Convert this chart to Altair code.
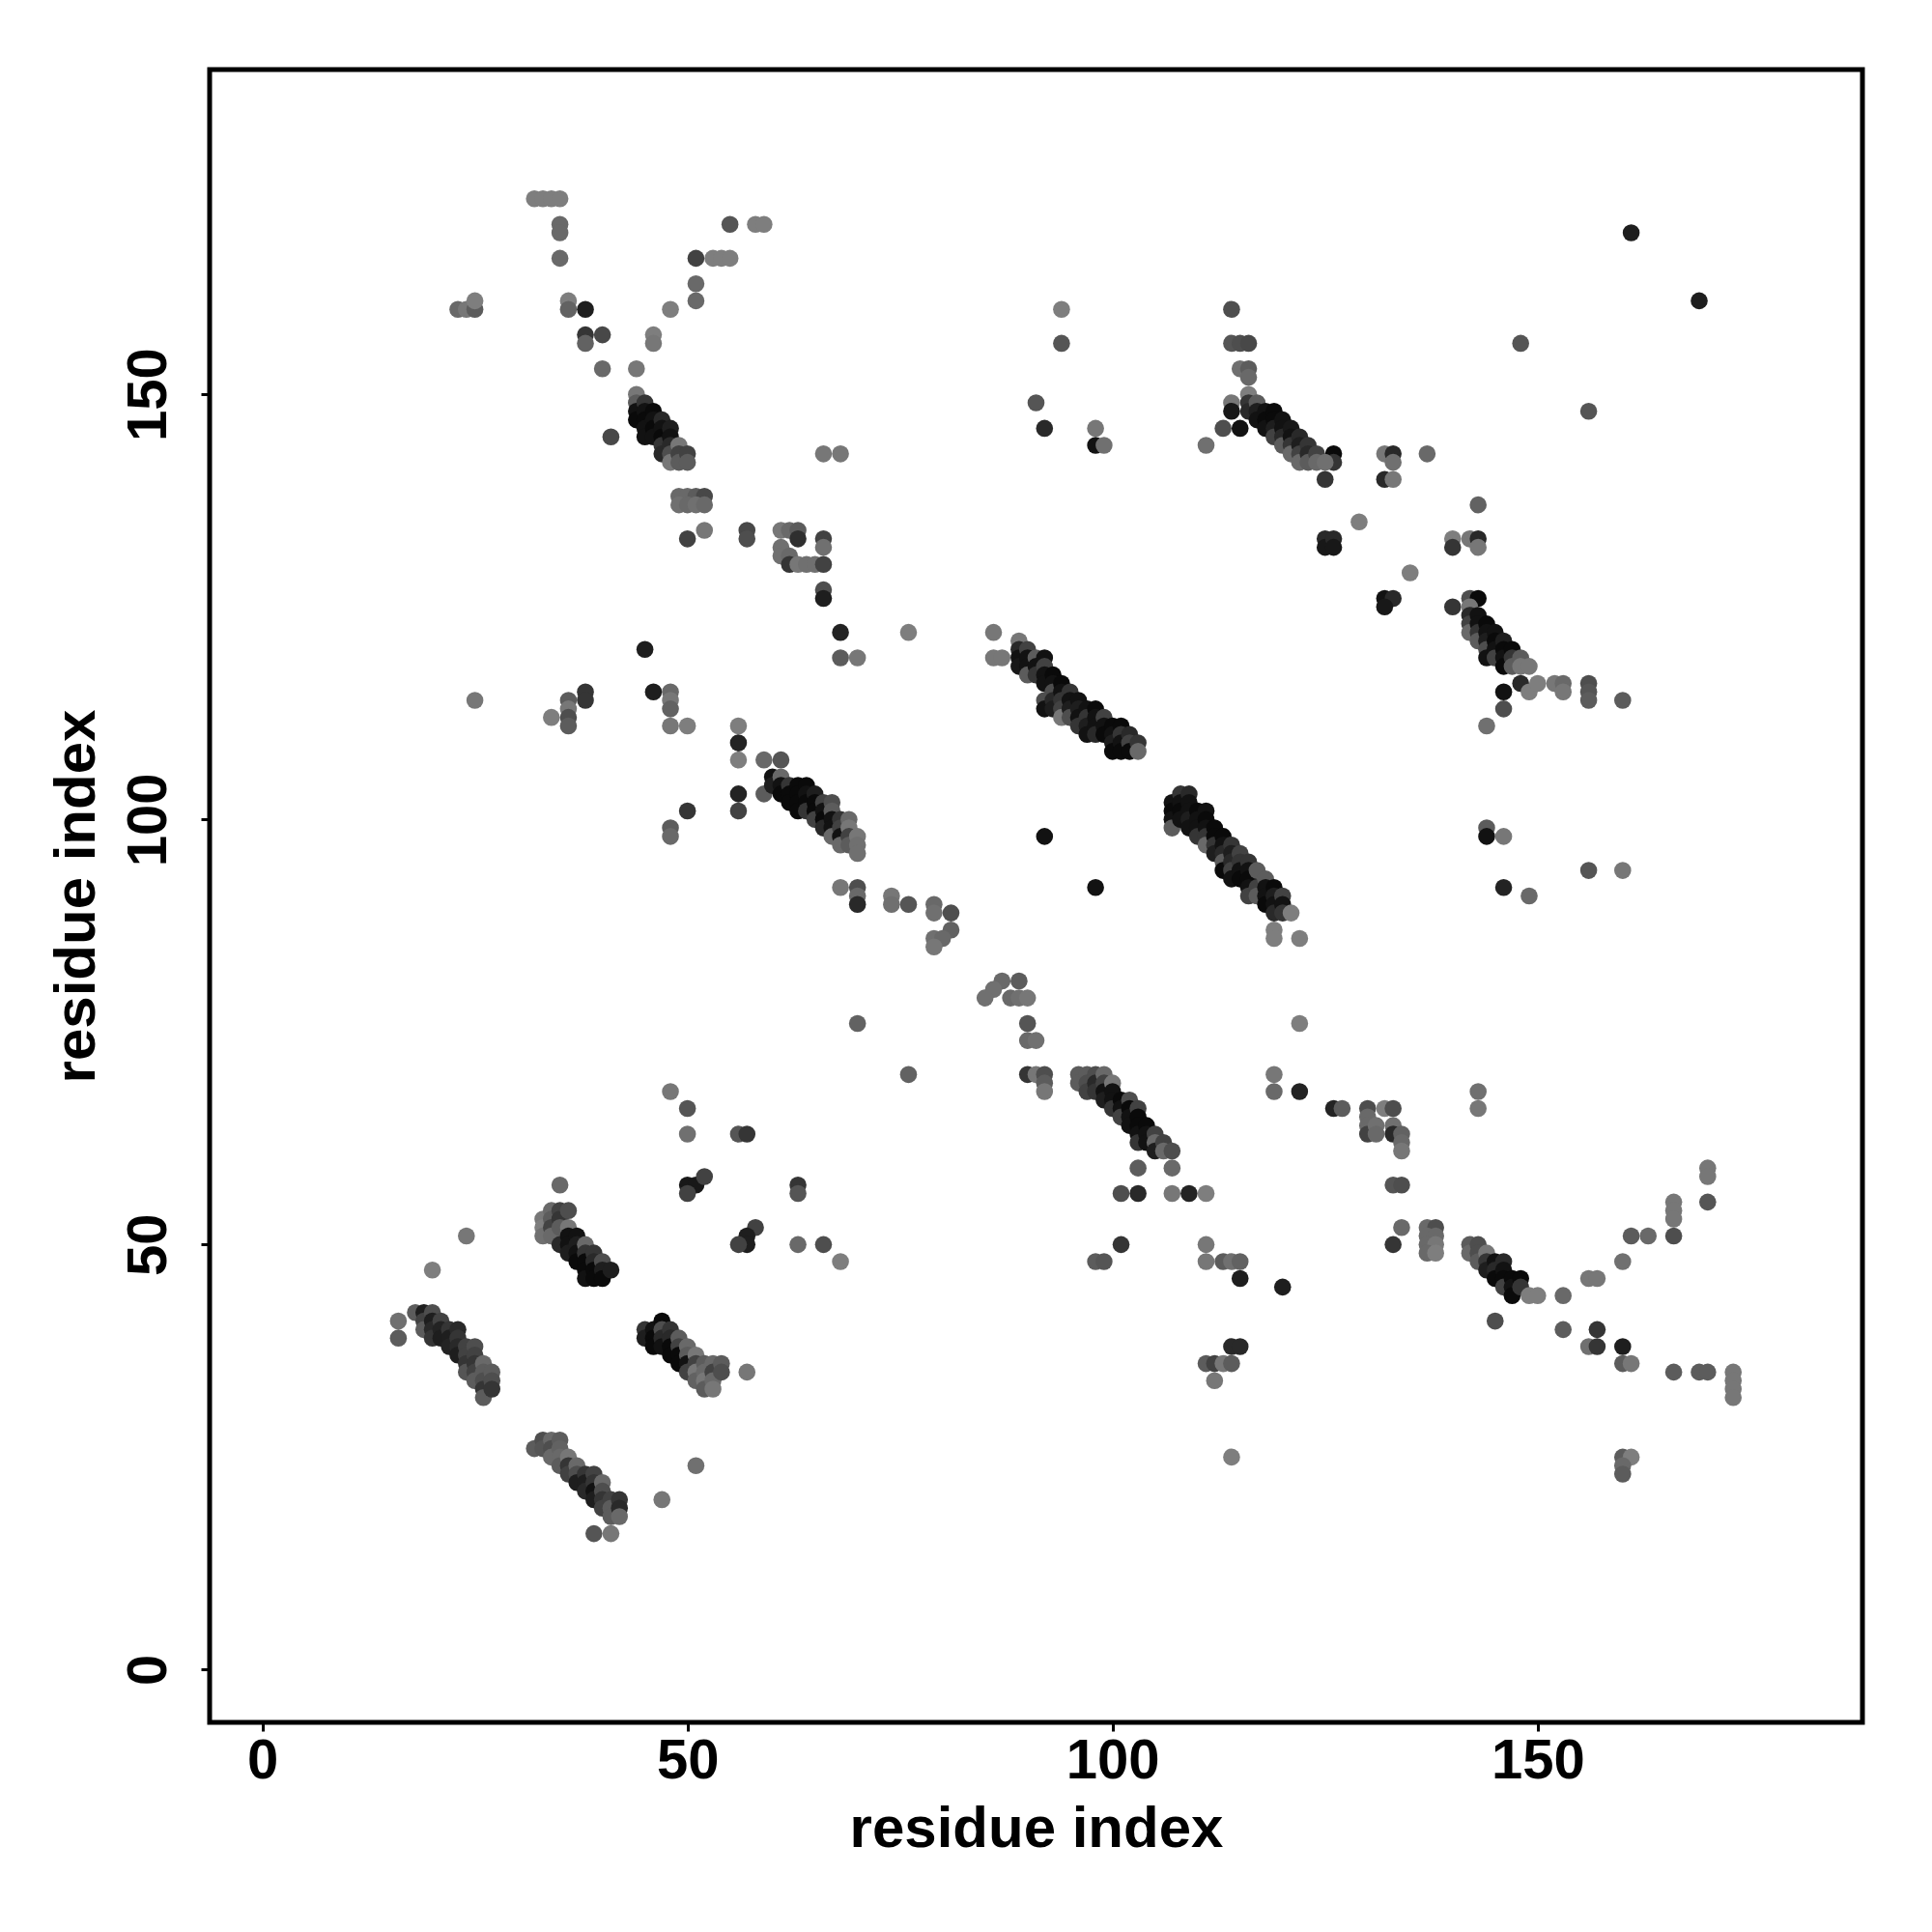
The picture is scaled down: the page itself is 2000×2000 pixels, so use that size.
import altair as alt
import pandas as pd

# (residue i, residue j, contact score 0..1)
top_left = [
    (32, 173, .05), (33, 173, .05), (34, 173, .05), (35, 173, .05),
    (35, 170, .2), (35, 169, .2), (35, 166, .2),
    (23, 160, .2), (24, 160, .1), (25, 160, .3), (25, 161, .05),
    (36, 161, .05), (36, 160, .25), (38, 160, .8),
    (38, 157, .6), (38, 156, .25), (40, 157, .45),
    (40, 153, .2), (44, 153, .1),
    (46, 157, .05), (46, 156, .1), (48, 160, .05),
    (51, 166, .5), (53, 166, .05), (54, 166, .05), (55, 166, .05),
    (51, 163, .2), (51, 161, .2),
    (55, 170, .35), (58, 170, .05), (59, 170, .05),
]
band_b = [
    (44, 150, .1), (44, 149, .3), (44, 148, .9), (44, 147, .95),
    (45, 149, .6), (45, 148, .9), (45, 147, .95), (45, 146, .9), (45, 145, .9),
    (46, 148, .95), (46, 147, .9), (46, 146, .95), (46, 145, .9),
    (47, 147, .7), (47, 146, .9), (47, 145, .95), (47, 144, .6), (47, 143, .7),
    (48, 146, .8), (48, 145, .9), (48, 144, .7), (48, 143, .4), (48, 142, .1),
    (49, 144, .1), (49, 143, .5), (49, 142, .3),
    (50, 143, .5), (50, 142, .3),
    (41, 145, .45),
]
mid_top = [
    (49, 138, .2), (50, 138, .2), (51, 138, .3), (52, 138, .45),
    (49, 137, .15), (50, 137, .2), (51, 137, .15), (52, 137, .2),
    (52, 134, .1), (50, 133, .5), (57, 134, .45), (57, 133, .4),
    (61, 134, .1), (62, 134, .2), (63, 134, .3), (63, 133, .65), (66, 133, .5), (66, 132, .15),
    (61, 132, .15), (61, 131, .15), (62, 131, .2), (62, 130, .6), (63, 130, .1),
    (64, 130, .15), (65, 130, .15), (66, 130, .5),
    (66, 127, .4), (66, 126, .8),
    (66, 143, .1), (68, 143, .1),
    (68, 122, .75), (68, 119, .3), (70, 119, .1), (76, 122, .05),
]
top_mid = [
    (94, 160, .05), (94, 156, .35), (91, 149, .35), (92, 146, .7),
    (98, 146, .1), (98, 144, .9), (99, 144, .15),
    (111, 144, .15), (113, 146, .4), (115, 146, .9),
    (114, 160, .4), (114, 156, .35), (115, 156, .4), (116, 156, .45),
    (115, 153, .15), (116, 153, .3), (116, 152, .2),
    (114, 149, .1), (114, 148, .85), (116, 150, .05), (116, 149, .6), (116, 148, .7),
]
band_e = [
    (117, 149, .3), (117, 148, .8), (117, 147, .9),
    (118, 148, .9), (118, 147, .95), (118, 146, .9),
    (119, 148, .95), (119, 147, .95), (119, 146, .8), (119, 145, .5),
    (120, 147, .9), (120, 146, .9), (120, 145, .7), (120, 144, .3),
    (121, 146, .85), (121, 145, .9), (121, 144, .6), (121, 143, .2),
    (122, 145, .7), (122, 144, .8), (122, 143, .5), (122, 142, .2),
    (123, 144, .6), (123, 143, .7), (123, 142, .3),
    (124, 143, .5), (124, 142, .2),
    (126, 143, .95), (126, 142, .6), (125, 142, .15), (125, 140, .6),
]
right_top = [
    (132, 143, .1), (133, 143, .7), (133, 142, .15), (132, 140, .7), (133, 140, .1), (137, 143, .2),
    (143, 137, .25), (129, 135, .05),
    (125, 133, .7), (125, 132, .85), (126, 133, .7), (126, 132, .85),
    (140, 133, .05), (140, 132, .6), (142, 133, .1), (143, 133, .7), (143, 132, .1),
    (135, 129, .05),
    (132, 126, .9), (133, 126, .7), (132, 125, .85),
    (140, 125, .6), (142, 126, .4), (143, 126, .95), (142, 125, .1),
    (161, 169, .8), (169, 161, .8), (148, 156, .35), (156, 148, .35),
]
band_g = [
    (142, 124, .7), (142, 123, .5), (142, 122, .2),
    (143, 124, .9), (143, 123, .9), (143, 122, .6), (143, 121, .3),
    (144, 123, .95), (144, 122, .9), (144, 121, .8), (144, 120, .4), (144, 119, .9),
    (145, 122, .9), (145, 121, .95), (145, 120, .9), (145, 119, .5),
    (146, 121, .8), (146, 120, .95), (146, 119, .9), (146, 118, .95),
    (147, 120, .95), (147, 119, .6), (147, 118, .3),
    (148, 119, .3), (148, 118, .1), (148, 116, .7),
    (149, 118, .1), (149, 115, .05), (150, 116, .05),
    (146, 115, .9), (146, 113, .4), (144, 111, .15),
    (152, 116, .1), (153, 116, .2), (153, 115, .1),
    (156, 116, .4), (156, 115, .35), (156, 114, .3), (160, 114, .3),
]
right_mid = [
    (144, 99, .3), (144, 98, .9), (146, 98, .1), (156, 94, .35), (160, 94, .1),
    (146, 92, .75), (149, 91, .2), (122, 86, .05),
]
left_mid = [
    (45, 120, .8), (25, 114, .1), (34, 112, .05),
    (36, 114, .3), (36, 113, .1), (36, 112, .4), (36, 111, .3),
    (38, 115, .6), (38, 114, .6),
    (46, 115, .8), (48, 115, .2), (48, 114, .1), (48, 113, .25), (48, 111, .1), (50, 111, .05),
    (56, 111, .05), (56, 109, .75), (56, 107, .05), (59, 107, .2), (61, 107, .35),
    (56, 103, .75), (56, 101, .5), (59, 103, .3),
    (50, 101, .6), (48, 99, .3), (48, 98, .2),
    (68, 92, .1),
]
band_h = [
    (60, 105, .9), (60, 104, .8),
    (61, 105, .2), (61, 104, .9), (61, 103, .95),
    (62, 104, .6), (62, 103, .95), (62, 102, .95),
    (63, 104, .95), (63, 103, .95), (63, 102, .95), (63, 101, .95),
    (64, 104, .95), (64, 103, .9), (64, 102, .95), (64, 101, .6),
    (65, 103, .8), (65, 102, .95), (65, 101, .95), (65, 100, .5),
    (66, 102, .5), (66, 101, .9), (66, 100, .95), (66, 99, .7),
    (67, 102, .4), (67, 101, .3), (67, 100, .9), (67, 99, .9), (67, 98, .2),
    (68, 100, .6), (68, 99, .5), (68, 98, .9), (68, 97, .2),
    (69, 100, .2), (69, 99, .1), (69, 98, .5), (69, 97, .3),
    (70, 98, .1), (70, 97, .15), (70, 96, .15),
    (70, 92, .4), (70, 91, .2), (70, 90, .7),
]
band_i = [
    (89, 121, .1), (89, 120, .7), (89, 119, .9), (89, 118, .85),
    (90, 120, .5), (90, 119, .9), (90, 118, .9), (90, 117, .3),
    (91, 119, .3), (91, 118, .9), (91, 117, .6),
    (92, 119, .9), (92, 118, .5), (92, 117, .9), (92, 116, .9), (92, 114, .4), (92, 113, .9),
    (93, 117, .95), (93, 116, .9), (93, 115, .4), (93, 114, .7), (93, 113, .8),
    (94, 116, .95), (94, 115, .9), (94, 114, .6), (94, 113, .5), (94, 112, .1),
    (95, 115, .6), (95, 114, .9), (95, 113, .8), (95, 112, .4),
    (96, 114, .9), (96, 113, .8), (96, 112, .9), (96, 111, .6),
    (97, 113, .9), (97, 112, .6), (97, 111, .8), (97, 110, .9),
    (98, 113, .95), (98, 112, .9), (98, 111, .9), (98, 110, .7),
    (99, 112, .5), (99, 111, .9), (99, 110, .95),
    (100, 111, .95), (100, 110, .9), (100, 109, .8), (100, 108, .95),
    (101, 111, .95), (101, 110, .6), (101, 109, .9), (101, 108, .95),
    (102, 110, .7), (102, 109, .5), (102, 108, .95),
    (103, 109, .6), (103, 108, .2),
]
band_j = [
    (107, 102, .9), (107, 101, .95), (107, 100, .9), (107, 99, .3),
    (108, 103, .6), (108, 102, .9), (108, 101, .95), (108, 100, .9),
    (109, 103, .7), (109, 102, .9), (109, 101, .9), (109, 100, .8), (109, 99, .9),
    (110, 101, .95), (110, 100, .9), (110, 99, .9), (110, 98, .6),
    (111, 101, .9), (111, 100, .95), (111, 99, .9), (111, 98, .6), (111, 97, .2),
    (112, 99, .95), (112, 98, .95), (112, 97, .6), (112, 96, .8),
    (113, 98, .95), (113, 97, .9), (113, 96, .7), (113, 95, .3), (113, 94, .95),
    (114, 97, .6), (114, 96, .8), (114, 95, .7), (114, 94, .5), (114, 93, .9),
    (115, 96, .5), (115, 95, .6), (115, 94, .9), (115, 93, .95),
    (116, 95, .6), (116, 94, .9), (116, 93, .95), (116, 92, .9), (116, 91, .5),
    (117, 94, .3), (117, 92, .5), (117, 91, .3),
    (118, 93, .3), (118, 92, .9), (118, 91, .9), (118, 90, .95),
    (119, 92, .95), (119, 91, .8), (119, 90, .9), (119, 89, .7), (119, 87, .05), (119, 86, .05),
    (120, 91, .5), (120, 90, .9), (120, 89, .6),
    (121, 89, .05),
]
mid_low = [
    (86, 122, .1), (86, 119, .1), (87, 119, .1),
    (92, 98, .9), (98, 92, .9),
    (74, 91, .1), (74, 90, .15), (76, 90, .35), (79, 90, .2), (79, 89, .15),
    (81, 89, .4), (81, 87, .25), (79, 86, .15), (80, 86, .2), (79, 85, .1),
    (70, 76, .25), (76, 70, .25),
    (87, 81, .2), (89, 81, .3), (86, 80, .15), (85, 79, .15), (88, 79, .2), (89, 79, .15), (90, 79, .1),
    (90, 76, .35), (90, 74, .2), (91, 74, .15),
    (90, 70, .6), (91, 70, .1), (92, 70, .4), (92, 69, .3), (92, 68, .1),
    (119, 70, .1), (119, 68, .2), (122, 68, .75), (122, 76, .05),
]
band_k = [
    (96, 70, .3), (96, 69, .3),
    (97, 70, .3), (97, 69, .4), (97, 68, .5),
    (98, 70, .4), (98, 69, .7), (98, 68, .6),
    (99, 70, .2), (99, 69, .5), (99, 68, .9), (99, 67, .8),
    (100, 69, .1), (100, 68, .9), (100, 67, .9), (100, 66, .6),
    (101, 67, .95), (101, 66, .9), (101, 65, .5),
    (102, 67, .4), (102, 66, .95), (102, 65, .9), (102, 64, .9),
    (103, 66, .5), (103, 65, .95), (103, 64, .95), (103, 63, .9), (103, 62, .6),
    (104, 64, .95), (104, 63, .9), (104, 62, .9),
    (105, 63, .5), (105, 62, .2), (105, 61, .8),
    (106, 62, .5), (106, 61, .2),
    (107, 61, .4), (107, 59, .2), (103, 59, .3),
]
low_mid = [
    (101, 56, .4), (103, 56, .7), (107, 56, .1), (109, 56, .75), (111, 56, .05),
    (101, 50, .6), (98, 48, .3), (99, 48, .35), (111, 50, .1), (111, 48, .1),
    (113, 48, .3), (114, 48, .15), (115, 48, .25), (115, 46, .8), (120, 45, .8),
    (114, 38, .7), (115, 38, .7), (111, 36, .3), (112, 36, .5), (113, 36, .1), (114, 36, .3),
    (112, 34, .1), (114, 25, .05),
]
right_low = [
    (126, 66, .75), (127, 66, .3), (130, 66, .4), (132, 66, .05), (133, 66, .4),
    (143, 68, .15), (143, 66, .1),
    (130, 65, .2), (130, 64, .2), (130, 63, .5), (131, 64, .15), (131, 63, .2),
    (133, 64, .15), (133, 63, .7), (134, 63, .25), (134, 62, .2), (134, 61, .1),
    (133, 57, .35), (134, 57, .4), (134, 52, .2), (133, 50, .6),
    (137, 52, .2), (138, 52, .4), (137, 51, .2), (138, 51, .2),
    (137, 50, .2), (138, 50, .1), (137, 49, .2), (138, 49, .05),
]
band_l = [
    (142, 50, .3), (142, 49, .2),
    (143, 50, .4), (143, 49, .4), (143, 48, .3),
    (144, 49, .1), (144, 48, .6), (144, 47, .8),
    (145, 48, .9), (145, 47, .7), (145, 46, .95),
    (146, 48, .7), (146, 47, .9), (146, 46, .95), (146, 45, .5),
    (147, 46, .95), (147, 45, .9), (147, 44, .95),
    (148, 46, .95), (148, 45, .6),
    (149, 44, .05), (150, 44, .05), (145, 41, .4), (153, 44, .2), (153, 40, .3),
]
far_right = [
    (156, 46, .1), (157, 46, .1), (160, 48, .15), (161, 51, .3), (163, 51, .2),
    (166, 55, .1), (166, 54, .1), (166, 53, .1), (166, 51, .4),
    (170, 59, .1), (170, 58, .1), (170, 55, .35),
    (157, 40, .6), (156, 38, .15), (157, 38, .6), (160, 38, .8), (160, 36, .3), (161, 36, .1),
    (166, 35, .3), (169, 35, .3), (170, 35, .3),
    (173, 35, .1), (173, 34, .1), (173, 33, .1), (173, 32, .1),
    (160, 25, .3), (161, 25, .05), (160, 24, .2), (160, 23, .3),
]
low_left = [
    (48, 68, .1), (50, 66, .35), (50, 63, .15), (56, 63, .35), (57, 63, .6),
    (50, 57, .85), (51, 57, .85), (52, 58, .5), (50, 56, .5),
    (63, 57, .6), (63, 56, .35),
    (58, 52, .5), (57, 51, .8), (57, 50, .8), (56, 50, .5), (63, 50, .2), (66, 50, .4), (68, 48, .05),
    (35, 57, .2), (24, 51, .1), (20, 47, .05),
    (57, 35, .1), (39, 16, .35), (41, 16, .1), (47, 20, .1), (51, 24, .15),
]
band_m = [
    (33, 53, .1), (33, 52, .05), (33, 51, .15),
    (34, 54, .2), (34, 53, .3), (34, 52, .5), (34, 51, .2),
    (35, 54, .5), (35, 53, .6), (35, 52, .3), (35, 50, .7),
    (36, 54, .4), (36, 52, .1), (36, 51, .9), (36, 50, .9), (36, 49, .8),
    (37, 51, .9), (37, 50, .8), (37, 49, .9), (37, 48, .95),
    (38, 50, .2), (38, 49, .6), (38, 48, .95), (38, 47, .95), (38, 46, .9),
    (39, 49, .6), (39, 48, .7), (39, 47, .95), (39, 46, .95),
    (40, 48, .4), (40, 47, .8), (40, 46, .95),
    (41, 47, .8),
]
band_n = [
    (16, 41, .15), (16, 39, .3),
    (18, 42, .3),
    (19, 42, .8), (19, 41, .5), (19, 40, .3),
    (20, 42, .4), (20, 41, .8), (20, 40, .7), (20, 39, .6),
    (21, 41, .5), (21, 40, .75), (21, 39, .8),
    (22, 40, .6), (22, 39, .8), (22, 38, .75),
    (23, 40, .7), (23, 39, .6), (23, 38, .7), (23, 37, .8),
    (24, 38, .5), (24, 37, .5), (24, 36, .6), (24, 35, .35),
    (25, 38, .4), (25, 37, .5), (25, 36, .6), (25, 35, .5), (25, 34, .3),
    (26, 36, .2), (26, 35, .3), (26, 34, .4), (26, 33, .6), (26, 32, .3),
    (27, 35, .3), (27, 34, .4), (27, 33, .6),
]
band_o = [
    (45, 40, .6), (45, 39, .8),
    (46, 40, .9), (46, 39, .95), (46, 38, .95),
    (47, 41, .95), (47, 40, .4), (47, 39, .7), (47, 38, .9),
    (48, 40, .6), (48, 39, .7), (48, 38, .95), (48, 37, .95),
    (49, 39, .3), (49, 38, .5), (49, 37, .95), (49, 36, .95),
    (50, 38, .2), (50, 37, .3), (50, 36, .9), (50, 35, .5),
    (51, 37, .1), (51, 36, .5), (51, 35, .1), (51, 34, .25),
    (52, 36, .3), (52, 35, .2), (52, 34, .1), (52, 33, .3),
    (53, 36, .2), (53, 35, .5), (53, 34, .2), (53, 33, .1),
    (54, 36, .3), (54, 35, .4),
]
band_p = [
    (32, 26, .3),
    (33, 27, .4), (33, 26, .35),
    (34, 27, .2), (34, 26, .4), (34, 25, .2),
    (35, 27, .3), (35, 26, .25), (35, 25, .2), (35, 24, .3),
    (36, 25, .1), (36, 24, .6), (36, 23, .5),
    (37, 24, .2), (37, 23, .4), (37, 22, .8),
    (38, 23, .6), (38, 22, .8), (38, 21, .7),
    (39, 23, .5), (39, 22, .6), (39, 21, .9), (39, 20, .8),
    (40, 22, .2), (40, 21, .4), (40, 20, .6), (40, 19, .5),
    (41, 20, .5), (41, 19, .3), (41, 18, .3),
    (42, 20, .6), (42, 19, .7), (42, 18, .2),
]

groups = [top_left, band_b, mid_top, top_mid, band_e, right_top, band_g, right_mid,
          left_mid, band_h, band_i, band_j, mid_low, band_k, low_mid, right_low,
          band_l, far_right, low_left, band_m, band_n, band_o, band_p]
rows = [t for g in groups for t in g]
df = pd.DataFrame(rows, columns=["i", "j", "score"])

ticks = [0, 50, 100, 150]
dom = [-6.2, 188.2]
FONT = "Liberation Sans"

x_axis = alt.Axis(
    values=ticks, grid=False, domain=False, tickSize=9, tickWidth=3, tickColor="black",
    labelFont=FONT, labelFontWeight="bold", labelFontSize=58, labelColor="black",
    labelBaseline="alphabetic", labelPadding=48, labelFlush=False, labelOverlap=False,
    title="residue index", titleFont=FONT, titleFontWeight="bold", titleFontSize=60,
    titleColor="black", titleBaseline="alphabetic", titleX=855.5, titleY=128,
    titleAlign="center",
)
y_axis = alt.Axis(
    values=ticks, grid=False, domain=False, tickSize=9, tickWidth=3, tickColor="black",
    labelFont=FONT, labelFontWeight="bold", labelFontSize=58, labelColor="black",
    labelAngle=270, labelAlign="center", labelBaseline="alphabetic", labelPadding=37,
    labelFlush=False, labelOverlap=False,
    title="residue index", titleFont=FONT, titleFontWeight="bold", titleFontSize=60,
    titleColor="black", titleAngle=270, titleAlign="center", titleBaseline="alphabetic",
    titleX=-120, titleY=855.5,
)

chart = alt.Chart(df).mark_circle(size=310, opacity=1, strokeWidth=0).encode(
    x=alt.X("i:Q", scale=alt.Scale(domain=dom, nice=False, zero=False), axis=x_axis),
    y=alt.Y("j:Q", scale=alt.Scale(domain=dom, nice=False, zero=False), axis=y_axis),
    color=alt.Color("score:Q", scale=alt.Scale(domain=[0, 1], range=["#858585", "#000000"]),
                    legend=None),
).properties(
    width=1711, height=1711,
    padding={"left": 209, "top": 64, "right": 60, "bottom": 200},
    autosize=alt.AutoSizeParams(type="none"),
    background="white",
).configure_view(stroke="black", strokeWidth=5)

chart.save("out.html", embed_options={"renderer": "svg", "actions": False})
